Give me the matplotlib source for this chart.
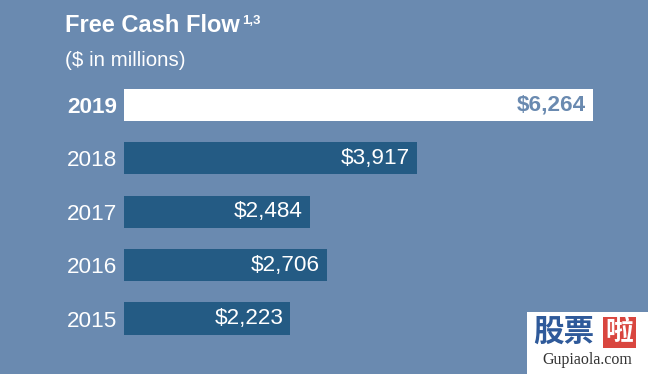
import matplotlib.pyplot as plt
from matplotlib.patches import Rectangle

years = ['2015', '2016', '2017', '2018', '2019']
fcf = [2223, 2706, 2484, 3917, 6264]
labels = ['$2,223', '$2,706', '$2,484', '$3,917', '$6,264']

bg = '#6a8ab0'
dark = '#245b84'

plt.rcParams['font.family'] = ['Liberation Sans', 'DejaVu Sans']

W, H = 648, 374
fig = plt.figure(figsize=(W / 100, H / 100), dpi=100, facecolor=bg)

# axes placed in pixel terms: x=0 at px 124, bars centred every ~53.4 px
left, right = 124, 648
top, bottom = 80, 345
ax = fig.add_axes([left / W, 1 - bottom / H, (right - left) / W, (bottom - top) / H])
ax.set_facecolor(bg)
pxu = 469 / 6264
ax.set_xlim(0, (right - left) / pxu)
step = 53.4
ax.set_ylim(-(bottom - 318.5) / step, 4 + (105 - top) / step)

cols = [dark] * 4 + ['white']
ypos = list(range(len(years)))
ax.barh(ypos, fcf, height=0.6, color=cols)

for i, (v, lab) in enumerate(zip(fcf, labels)):
    last = i == len(years) - 1
    ax.text(v - 7 / pxu, i, lab, ha='right', va='center', fontsize=16.2,
            color=bg if last else 'white', fontweight='bold' if last else 'normal')

ax.set_yticks(ypos)
ax.set_yticklabels(years, fontsize=16.2, color='white')
ax.get_yticklabels()[-1].set_fontweight('bold')
ax.tick_params(axis='y', length=0, pad=5)
ax.set_xticks([])
for s in ax.spines.values():
    s.set_visible(False)

# headings
fig.text(65 / W, 1 - 25 / H, 'Free Cash Flow', fontsize=17, fontweight='bold',
         color='white', va='center', ha='left')
fig.text(242 / W, 1 - 21 / H, '1,3', fontsize=9.5, fontweight='bold',
         color='white', va='center', ha='left')
fig.text(65 / W, 1 - 60 / H, '($ in millions)', fontsize=14.8,
         color='white', va='center', ha='left')

# watermark
fig.patches.append(Rectangle((527 / W, 0), 121 / W, 62 / H, transform=fig.transFigure,
                             facecolor='white', edgecolor='none'))
fig.patches.append(Rectangle((603 / W, 1 - 348 / H), 33 / W, 31 / H, transform=fig.transFigure,
                             facecolor='#d9463f', edgecolor='none'))
fig.text(533 / W, 1 - 332 / H, '股票', fontsize=22, fontweight='bold', color='#2f5a9a',
         va='center', ha='left', family=['Noto Sans CJK SC'])
fig.text(619.5 / W, 1 - 332 / H, '啦', fontsize=20, fontweight='bold', color='white',
         va='center', ha='center', family=['Noto Sans CJK SC'])
fig.text(587 / W, 1 - 360 / H, 'Gupiaola.com', fontsize=11.5, color='#333333',
         va='center', ha='center', family=['Liberation Serif'])

fig.savefig('out.png', dpi=100, facecolor=bg)
